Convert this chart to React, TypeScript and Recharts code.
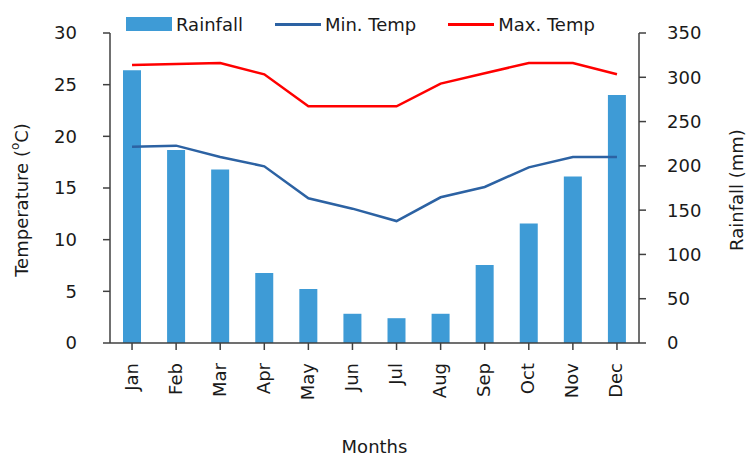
import {
    ComposedChart,
    Bar,
    Line,
    XAxis,
    YAxis,
} from "recharts";

const months = ["Jan", "Feb", "Mar", "Apr", "May", "Jun", "Jul", "Aug", "Sep", "Oct", "Nov", "Dec"];
const rainfall = [308, 218, 196, 79, 61, 33, 28, 33, 88, 135, 188, 280];
const minTemp = [19, 19.1, 18, 17.1, 14, 13, 11.8, 14.1, 15.1, 17, 18, 18];
const maxTemp = [26.9, 27, 27.1, 26, 22.9, 22.9, 22.9, 25.1, 26.1, 27.1, 27.1, 26];

const tempTicks = [0, 5, 10, 15, 20, 25, 30];
const rainTicks = [0, 50, 100, 150, 200, 250, 300, 350];

const FONT = "'DejaVu Sans', sans-serif";
const AXIS = "#404040";
const TEXT = "#1a1a1a";

const legendItems = [
    {name: "Rainfall", color: "#3E9BD6", kind: "bar"},
    {name: "Min. Temp", color: "#2C62A3", kind: "line"},
    {name: "Max. Temp", color: "#FF0000", kind: "line"},
];

const chartData = months.map((m, i) => ({
    month: m,
    rainfall: rainfall[i],
    minTemp: minTemp[i],
    maxTemp: maxTemp[i],
}));

const MonthTick = ({x, y, payload}: any) => {
    const ty = y + 11;
    return (
        <text
            x={x - 1}
            y={ty}
            transform={`rotate(-90, ${x - 1}, ${ty})`}
            textAnchor="end"
            dominantBaseline="central"
            fontSize={18}
            fontFamily={FONT}
            fill={TEXT}
        >
            {payload.value}
        </text>
    );
};

const TempLabel = ({viewBox}: any) => {
    const cx = viewBox.x + 21;
    const cy = 200;
    return (
        <text
            x={cx}
            y={cy}
            transform={`rotate(-90, ${cx}, ${cy})`}
            textAnchor="middle"
            dominantBaseline="central"
            fontSize={18}
            fontFamily={FONT}
            fill={TEXT}
        >
            Temperature (<tspan fontSize={12} dy={-6}>o</tspan><tspan dy={6}>C)</tspan>
        </text>
    );
};

const RainLabel = ({viewBox}: any) => {
    const cx = viewBox.x + 97;
    const cy = 190;
    return (
        <text
            x={cx}
            y={cy}
            transform={`rotate(-90, ${cx}, ${cy})`}
            textAnchor="middle"
            dominantBaseline="central"
            fontSize={18}
            fontFamily={FONT}
            fill={TEXT}
        >
            Rainfall (mm)
        </text>
    );
};

export default function App() {
    return (
        <div style={{position: "absolute", left: 0, top: 0, width: 747, height: 458, background: "#fff"}}>
            <ComposedChart
                width={747}
                height={458}
                data={chartData}
                margin={{top: 33, right: 0, bottom: 0, left: 0}}
            >
                <XAxis
                    dataKey="month"
                    interval={0}
                    height={115}
                    tickSize={7}
                    axisLine={{stroke: AXIS, strokeWidth: 1.5}}
                    tickLine={{stroke: AXIS, strokeWidth: 1.5}}
                    tick={<MonthTick/>}
                    label={{
                        value: "Months",
                        position: "insideBottom",
                        offset: 5,
                        fontSize: 18,
                        fontFamily: FONT,
                        fill: TEXT,
                    }}
                />
                <YAxis
                    yAxisId="temp"
                    width={110}
                    domain={[0, 30]}
                    ticks={tempTicks}
                    tickSize={7}
                    tickMargin={26}
                    axisLine={{stroke: AXIS, strokeWidth: 1.5}}
                    tickLine={{stroke: AXIS, strokeWidth: 1.5}}
                    tick={{fontSize: 18, fontFamily: FONT, fill: TEXT}}
                    label={(props: any) => <TempLabel {...props}/>}
                />
                <YAxis
                    yAxisId="rain"
                    orientation="right"
                    width={108}
                    domain={[0, 350]}
                    ticks={rainTicks}
                    tickSize={7}
                    tickMargin={21}
                    axisLine={{stroke: AXIS, strokeWidth: 1.5}}
                    tickLine={{stroke: AXIS, strokeWidth: 1.5}}
                    tick={{fontSize: 18, fontFamily: FONT, fill: TEXT, textAnchor: "start"}}
                    label={(props: any) => <RainLabel {...props}/>}
                />
                <Bar
                    yAxisId="rain"
                    dataKey="rainfall"
                    name="Rainfall"
                    fill="#3E9BD6"
                    barSize={18}
                    isAnimationActive={false}
                />
                <Line
                    yAxisId="temp"
                    type="linear"
                    dataKey="minTemp"
                    name="Min. Temp"
                    stroke="#2C62A3"
                    strokeWidth={2.5}
                    dot={false}
                    activeDot={false}
                    isAnimationActive={false}
                />
                <Line
                    yAxisId="temp"
                    type="linear"
                    dataKey="maxTemp"
                    name="Max. Temp"
                    stroke="#FF0000"
                    strokeWidth={2.5}
                    dot={false}
                    activeDot={false}
                    isAnimationActive={false}
                />
            </ComposedChart>
            <div
                style={{
                    position: "absolute",
                    left: 126,
                    top: 14,
                    height: 20,
                    display: "flex",
                    alignItems: "center",
                    gap: 32,
                    fontFamily: FONT,
                    fontSize: 18,
                    color: TEXT,
                }}
            >
                {legendItems.map((it) => (
                    <div key={it.name} style={{display: "flex", alignItems: "center", gap: 4}}>
                        <span
                            style={{
                                display: "inline-block",
                                width: 46,
                                height: it.kind === "bar" ? 14 : 3,
                                background: it.color,
                            }}
                        />
                        <span style={{whiteSpace: "nowrap"}}>{it.name}</span>
                    </div>
                ))}
            </div>
        </div>
    );
}
